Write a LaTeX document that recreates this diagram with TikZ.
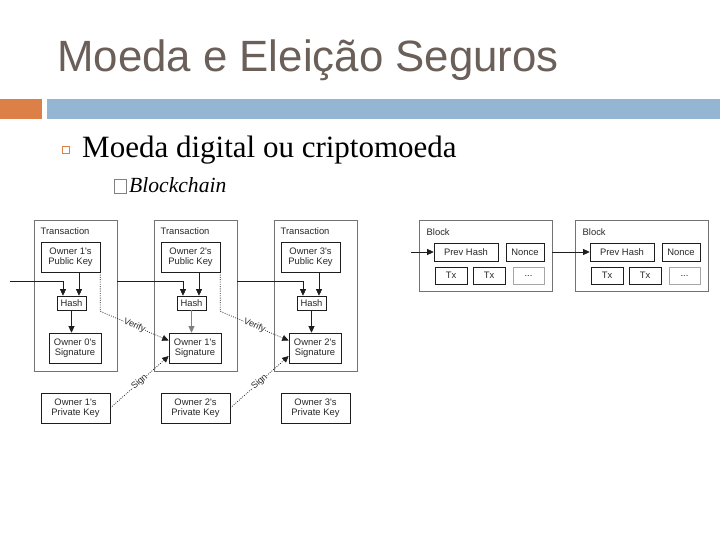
\documentclass[tikz,border=0pt]{standalone}
\usepackage{fontspec}
\setmainfont{Liberation Serif}
\newfontfamily\arialf{Liberation Sans}
\usetikzlibrary{arrows.meta,calc}
\definecolor{titlec}{RGB}{107,95,89}
\definecolor{orangebar}{RGB}{221,128,71}
\definecolor{bluebar}{RGB}{148,182,210}
\definecolor{ln}{RGB}{30,30,30}
\definecolor{outerc}{RGB}{115,115,115}
\definecolor{txtc}{RGB}{40,40,40}
\tikzset{
  dfont/.style={font=\arialf\fontsize{9.4}{10.6}\selectfont, text=txtc},
  box/.style={draw=ln, line width=0.6pt, fill=white, inner sep=0pt, align=center, dfont},
  outerbox/.style={draw=outerc, line width=0.6pt, inner sep=0pt},
  arr/.style={draw=ln, line width=0.7pt, -{Triangle[length=6.5pt,width=6pt]}},
  dotarr/.style={draw=ln, line width=0.7pt, dash pattern=on 0.9pt off 1.4pt, -{Triangle[length=6.5pt,width=6pt]}},
  lbl/.style={font=\arialf\fontsize{9}{10}\selectfont, text=txtc, fill=white, inner sep=0.3pt, sloped},
}
\begin{document}
\begin{tikzpicture}[x=1pt,y=-1pt]
\useasboundingbox (0,0) rectangle (720,540);
\fill[white] (0,0) rectangle (720,540);
% header
\node[anchor=base west, inner sep=0pt, text=titlec, font=\arialf\fontsize{43.8}{50}\selectfont] (title) at (57,72) {Moeda e Eleição Seguros};
\fill[orangebar] (0,99) rectangle (42,119);
\fill[bluebar] (47,99) rectangle (720,119);
% bullets
\node[draw=orangebar, line width=1.3pt, minimum size=7pt, inner sep=0pt] (b1) at (66,150) {};
\node[anchor=base west, inner sep=0pt, font=\fontsize{31}{36}\selectfont] (t1) at (82,157.5) {Moeda digital ou criptomoeda};
\node[draw=gray, line width=0.5pt, minimum width=12pt, minimum height=14pt, inner sep=0pt] (b2) at (120,186) {};
\node[anchor=base west, inner sep=0pt, font=\itshape\fontsize{21.6}{26}\selectfont] (t2) at (129,193) {Blockchain};
% transactions
\foreach \i in {0,1,2}{
  \pgfmathsetmacro\dx{120*\i}
  \pgfmathtruncatemacro\a{\i+1}
  \node[outerbox, minimum width=83pt, minimum height=151pt] (tx\i) at ({75.5+\dx},295.5) {};
  \node[dfont, anchor=west, inner sep=0pt] (tl\i) at ({40.5+\dx},231) {Transaction};
  \node[box, minimum width=59pt, minimum height=30pt] (pub\i) at ({70.5+\dx},257) {Owner \a's\\Public Key};
  \node[box, minimum width=29pt, minimum height=14pt] (hash\i) at ({71.5+\dx},303) {Hash};
  \node[box, minimum width=52pt, minimum height=30pt] (sig\i) at ({75+\dx},348) {Owner \i's\\Signature};
  \node[box, minimum width=69pt, minimum height=30pt] (priv\i) at ({75.5+\dx},408) {Owner \a's\\Private Key};
  \coordinate (hl\i) at ($(hash\i.north)+(-8.5,0)$);
  \coordinate (hr\i) at ($(hash\i.north)+(7.5,0)$);
  \draw[arr] (pub\i.south -| hr\i) -- (hr\i);
}
\draw[arr] (hash0.south) -- (hash0.south |- sig0.north);
\draw[arr, draw=gray] (hash1.south) -- (hash1.south |- sig1.north);
\draw[arr] (hash2.south) -- (hash2.south |- sig2.north);
\coordinate (in) at (10,281);
\draw[arr] (in) -| (hl0);
\draw[arr] (tx0.east |- in) -| (hl1);
\draw[arr] (tx1.east |- in) -| (hl2);
% verify / sign
\draw[dotarr] (pub0.south east) -- ++(0,39) -- ($(sig1.west)+(0,-7.5)$) node[lbl, midway] {Verify};
\draw[dotarr] (pub1.south east) -- ++(0,39) -- ($(sig2.west)+(0,-7.5)$) node[lbl, midway] {Verify};
\draw[dotarr] (priv0.east) -- ($(sig1.west)+(0,8)$) node[lbl, midway] {Sign};
\draw[dotarr] (priv1.east) -- ($(sig2.west)+(0,8)$) node[lbl, midway] {Sign};
% blocks
\foreach \j/\L in {0/419,1/575}{
  \node[outerbox, minimum width=133pt, minimum height=71pt] (blk\j) at ({\L+66.5},255.5) {};
  \node[dfont, anchor=west, inner sep=0pt] (bl\j) at ({\L+7.5},232) {Block};
  \node[box, minimum width=64pt, minimum height=18pt] (prev\j) at ({\L+47},252) {Prev Hash};
  \node[box, minimum width=38pt, minimum height=18pt] (nonce\j) at ({\L+106},252) {Nonce};
  \node[box, minimum width=32pt, minimum height=17pt] (txa\j) at ({\L+32},275.5) {Tx};
  \node[box, minimum width=32pt, minimum height=17pt] (txb\j) at ({\L+70},275.5) {Tx};
  \node[box, draw=gray!70, minimum width=31pt, minimum height=17pt] (dots\j) at ({\L+109.5},275.5) {...};
}
\coordinate (bin) at (411,252);
\draw[arr] (bin) -- (prev0.west);
\draw[arr] (blk0.east |- prev0.west) -- (prev1.west);
\end{tikzpicture}
\end{document}
